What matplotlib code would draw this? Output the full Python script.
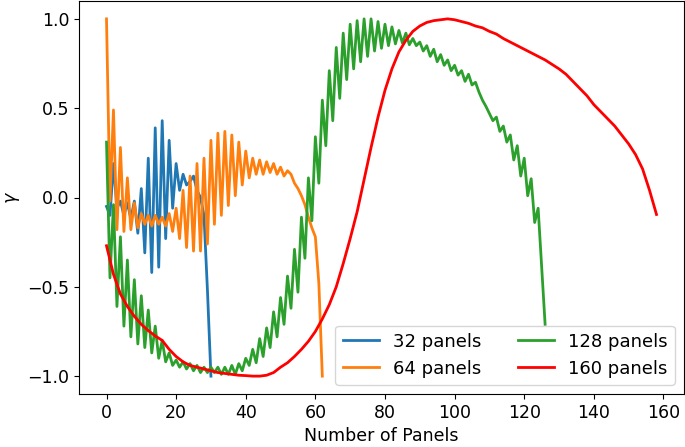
import matplotlib
matplotlib.use("Agg")
import matplotlib.pyplot as plt

# 32 panels (x = 0..30)
p32 = [-0.05, -0.10, 0.19, -0.06, -0.02, -0.10, -0.03, -0.12, -0.02, -0.20,
       0.05, -0.31, 0.22, -0.42, 0.39, -0.39, 0.43, -0.23, 0.32, -0.06,
       0.19, 0.04, 0.13, 0.07, 0.09, 0.12, 0.04, 0.00, -0.10, -0.52, -1.00]

# 64 panels (x = 0..62)
p64 = [1.00, -0.02, 0.49, -0.18, 0.28, -0.19, 0.11, -0.18, -0.03, -0.17,
       -0.09, -0.15, -0.10, -0.16, -0.10, -0.15, -0.11, -0.16, -0.09, -0.19,
       -0.06, -0.23, 0.04, -0.28, 0.12, -0.30, 0.19, -0.30, 0.22, -0.26,
       0.32, -0.15, 0.36, -0.10, 0.37, -0.045, 0.35, 0.01, 0.31, 0.07,
       0.26, 0.11, 0.22, 0.13, 0.21, 0.13, 0.20, 0.14, 0.19, 0.13,
       0.17, 0.12, 0.15, 0.13, 0.08, 0.05, 0.01, -0.04, -0.11, -0.17,
       -0.22, -0.48, -1.00]

# 128 panels (x = 0..126)
p128 = [0.31, -0.45, -0.04, -0.61, -0.22, -0.72, -0.35, -0.78, -0.46, -0.82,
        -0.55, -0.84, -0.63, -0.87, -0.72, -0.90, -0.80, -0.92, -0.87, -0.94,
        -0.91, -0.95, -0.92, -0.96, -0.93, -0.97, -0.94, -0.98, -0.95, -0.98,
        -0.95, -0.98, -0.95, -0.99, -0.95, -0.99, -0.94, -0.99, -0.93, -0.97,
        -0.90, -0.94, -0.85, -0.925, -0.79, -0.89, -0.73, -0.84, -0.64, -0.78,
        -0.56, -0.71, -0.44, -0.62, -0.29, -0.53, -0.11, -0.34, 0.11, -0.13,
        0.34, 0.08, 0.545, 0.29, 0.71, 0.43, 0.84, 0.555, 0.92, 0.66,
        0.97, 0.72, 0.99, 0.76, 1.00, 0.79, 1.00, 0.82, 0.985, 0.835,
        0.97, 0.85, 0.955, 0.86, 0.935, 0.865, 0.92, 0.855, 0.89, 0.85,
        0.87, 0.82, 0.85, 0.79, 0.83, 0.76, 0.80, 0.74, 0.77, 0.71,
        0.74, 0.685, 0.71, 0.65, 0.69, 0.63, 0.645, 0.59, 0.545, 0.51,
        0.47, 0.43, 0.45, 0.37, 0.40, 0.31, 0.35, 0.21, 0.29, 0.12,
        0.22, 0.01, 0.105, -0.14, -0.06, -0.385, -0.71]

# 160 panels (sampled at x = 0, 2, ..., 158)
x160 = list(range(0, 159, 2))
p160 = [-0.27, -0.43, -0.54, -0.61, -0.665, -0.71, -0.745, -0.775, -0.80, -0.85,
        -0.89, -0.92, -0.94, -0.95, -0.96, -0.97, -0.98, -0.985, -0.99, -0.995,
        -0.997, -1.00, -1.00, -0.995, -0.98, -0.95, -0.925, -0.89, -0.85, -0.805,
        -0.75, -0.68, -0.60, -0.50, -0.37, -0.23, -0.08, 0.10, 0.28, 0.45,
        0.60, 0.72, 0.815, 0.88, 0.93, 0.96, 0.98, 0.99, 0.995, 1.00,
        0.995, 0.985, 0.975, 0.96, 0.95, 0.93, 0.915, 0.89, 0.87, 0.85,
        0.83, 0.81, 0.79, 0.77, 0.745, 0.72, 0.69, 0.65, 0.61, 0.57,
        0.52, 0.48, 0.44, 0.40, 0.35, 0.30, 0.24, 0.16, 0.04, -0.095]

labels = ["32 panels", "64 panels", "128 panels", "160 panels"]

plt.rcParams['font.family'] = ['DejaVu Sans']
plt.rcParams['font.size'] = 12

fig = plt.figure(figsize=(6.85, 4.47), dpi=100)
ax = fig.add_axes([79 / 685, 53 / 447, 605 / 685, 393 / 447])

ax.plot(range(len(p32)), p32, color='tab:blue', lw=2, label=labels[0])
ax.plot(range(len(p64)), p64, color='tab:orange', lw=2, label=labels[1])
ax.plot(range(len(p128)), p128, color='tab:green', lw=2, label=labels[2])
ax.plot(x160, p160, color='red', lw=2, label=labels[3])

ax.set_xticks([0, 20, 40, 60, 80, 100, 120, 140, 160])
ax.set_yticks([-1.0, -0.5, 0.0, 0.5, 1.0])
ax.tick_params(labelsize=12.5)
ax.set_xlabel("Number of Panels", fontsize=12.5)
ax.set_ylabel(r"$\gamma$", fontsize=12.5)
ax.legend(loc='lower right', ncol=2, fontsize=13)

fig.savefig("out.png", dpi=100)
